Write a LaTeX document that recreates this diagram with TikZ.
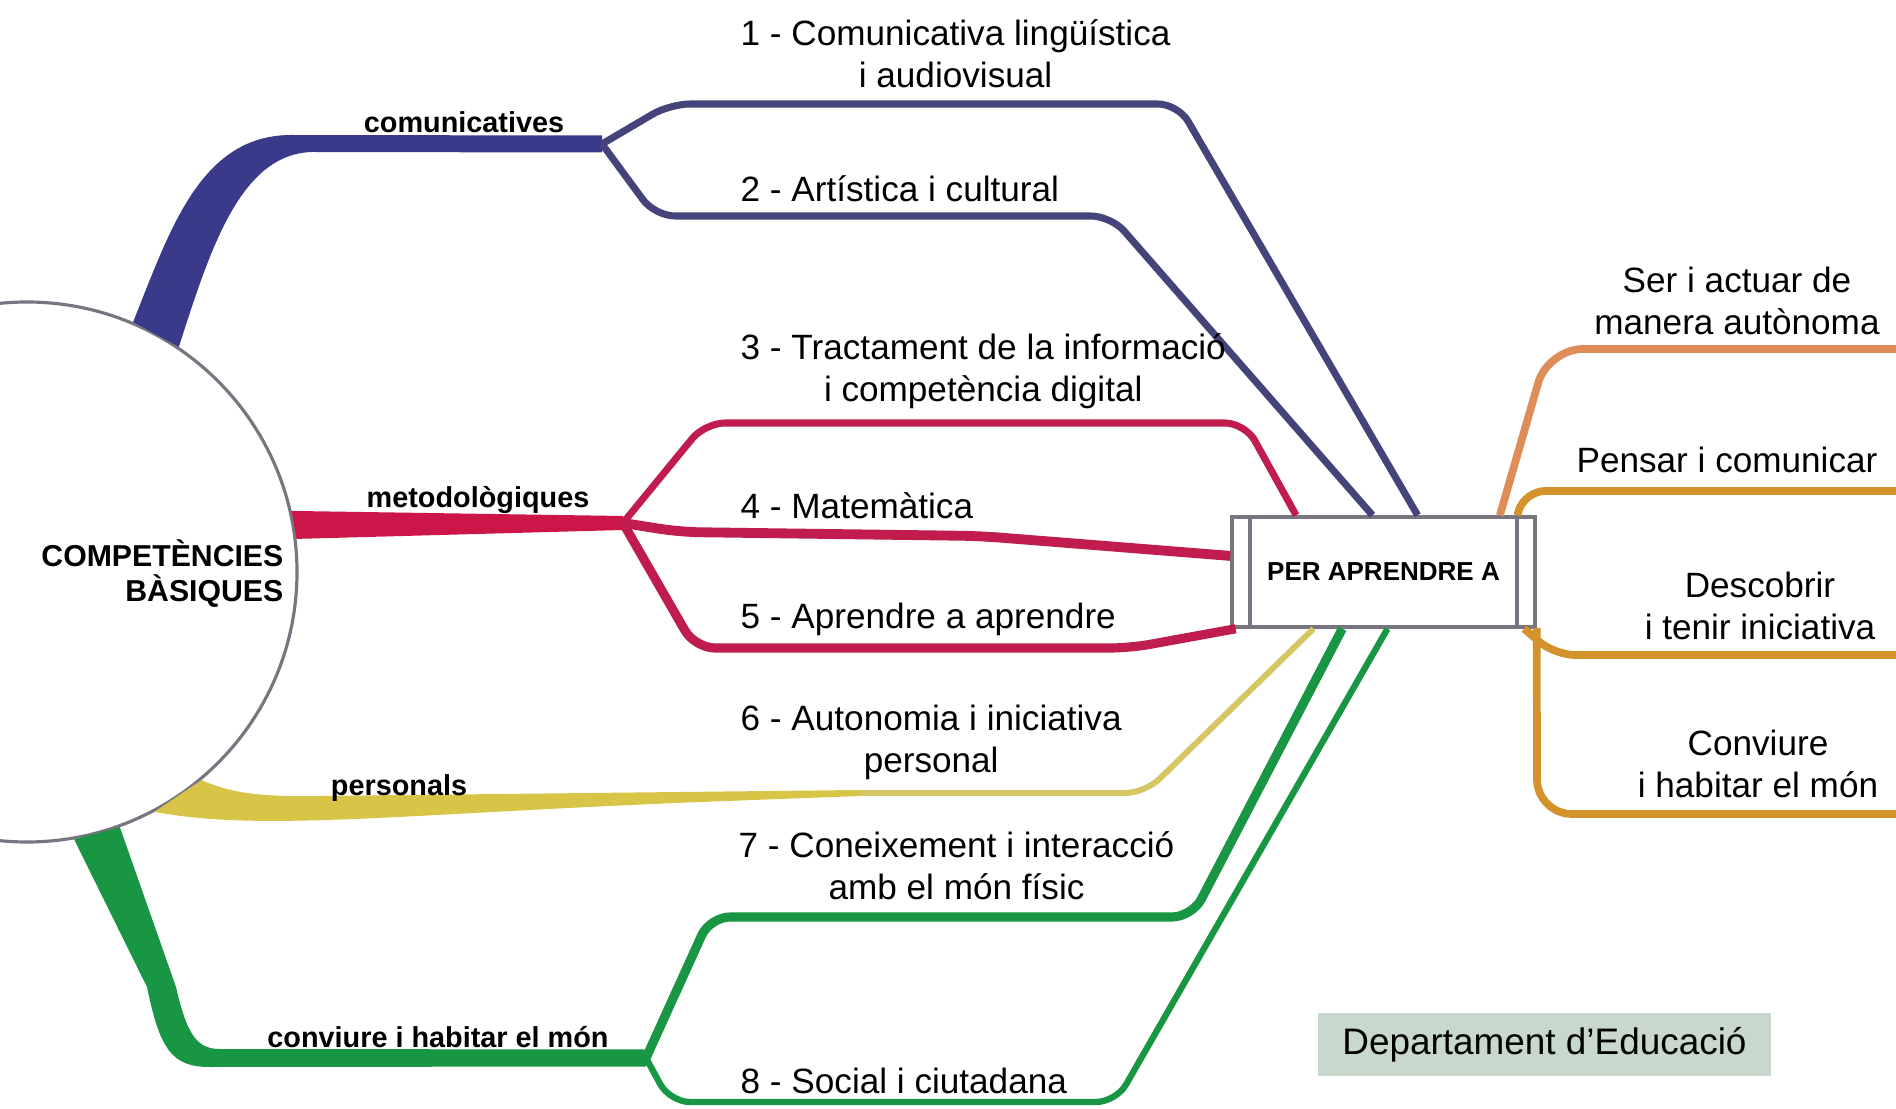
\documentclass[tikz,border=0pt]{standalone}
\usepackage{fontspec}
\setmainfont{Liberation Sans}
\usetikzlibrary{calc}

\definecolor{cbblue}{RGB}{58,58,138}
\definecolor{lnblue}{RGB}{68,68,122}
\definecolor{cbred}{RGB}{204,22,72}
\definecolor{lnred}{RGB}{192,28,78}
\definecolor{cbyellow}{RGB}{216,196,70}
\definecolor{lnyellow}{RGB}{214,198,100}
\definecolor{cbgreen}{RGB}{24,150,68}
\definecolor{lnorange}{RGB}{222,140,88}
\definecolor{lngold}{RGB}{212,146,45}
\definecolor{circgray}{RGB}{118,118,128}
\definecolor{boxgray}{RGB}{120,116,128}
\definecolor{deptgreen}{RGB}{201,216,205}

\tikzset{
  branchline/.style={line width=2pt, rounded corners=0.2cm},
  numlabel/.style={font=\fontsize{10}{12}\selectfont, align=center, anchor=west, inner sep=0pt},
  outlabel/.style={font=\fontsize{10}{12}\selectfont, align=center, inner sep=0pt},
  kindlabel/.style={font=\bfseries\fontsize{8.2}{10}\selectfont, inner sep=0pt}
}

\begin{document}
\begin{tikzpicture}[y=-1cm]
  \path[fill=white,use as bounding box] (0,0) rectangle (18.96,11.09);

  \node[circle,draw=circgray,line width=0.9pt,fill=white,minimum size=5.4cm] (cb) at (0.27,5.72) {};
  \node[font=\bfseries\fontsize{8.6}{10}\selectfont,align=right,anchor=east,inner sep=0pt] (cbt) at (2.84,5.735) {COMPETÈNCIES\\BÀSIQUES};

  \node[draw=boxgray,line width=1pt,fill=white,minimum width=3.03cm,minimum height=1.1cm,font=\bfseries\fontsize{7.4}{9}\selectfont] (pa) at (13.835,5.72) {PER APRENDRE A};
  \draw[boxgray,line width=1pt] ([xshift=2mm]pa.north west) -- ([xshift=2mm]pa.south west);
  \draw[boxgray,line width=1pt] ([xshift=-2mm]pa.north east) -- ([xshift=-2mm]pa.south east);

  \coordinate (fb) at (6.02,1.44);
  \coordinate (fr) at (6.23,5.23);
  \coordinate (fy) at (8.60,7.93);
  \coordinate (fg) at (6.46,10.58);

  \fill[cbblue] (cb.67) .. controls (1.70,2.30) and (2.00,1.36) .. (2.90,1.35) -- ($(fb)+(0,-0.085)$) -- ($(fb)+(0,0.085)$) -- (3.12,1.52) .. controls (2.40,1.54) and (2.10,2.50) .. (cb.56) -- cycle;
  \fill[cbred] (cb.13) -- ($(fr)+(0,-0.07)$) -- ($(fr)+(0,0.07)$) -- (cb.7) -- cycle;
  \fill[cbyellow] (cb.-50) .. controls (2.30,7.93) and (2.60,7.97) .. (3.20,7.96) -- ($(fy)+(0,-0.03)$) -- ($(fy)+(0,0.03)$) -- (7.00,8.02) .. controls (4.00,8.14) and (2.60,8.32) .. (cb.-62) -- cycle;
  \fill[cbgreen] (cb.-80) -- (1.47,9.87) .. controls (1.60,10.50) and (1.72,10.67) .. (2.10,10.67) -- ($(fg)+(0,0.085)$) -- ($(fg)+(0,-0.085)$) -- (2.20,10.49) .. controls (1.97,10.49) and (1.87,10.35) .. (1.76,9.87) -- (cb.-70) -- cycle;

  \draw[branchline,lnblue] (fb) -- (6.70,1.04) -- (11.78,1.04) -- (pa.59);
  \draw[branchline,lnblue] (fb) -- (6.55,2.16) -- (11.11,2.16) -- (pa.101);
  \draw[branchline,lnred] (fr) -- (7.05,4.23) -- (12.45,4.23) -- (pa.147);
  \draw[branchline,lnred,line width=2.8pt] (fr) -- (6.80,5.32) -- (9.80,5.36) -- (pa.174);
  \draw[branchline,lnred,line width=2.6pt] (fr) -- (6.95,6.48) -- (11.30,6.48) -- (pa.-159);
  \draw[branchline,lnyellow,line width=1.7pt] (fy) -- (11.45,7.93) -- (pa.-141);
  \draw[branchline,cbgreen,line width=2.6pt] (fg) -- (7.10,9.17) -- (11.92,9.17) -- (pa.-126);
  \draw[branchline,cbgreen,line width=1.8pt] (fg) -- (6.70,11.02) -- (11.16,11.02) -- (pa.-86);

  \draw[branchline,lnorange,line width=2.2pt,rounded corners=0.35cm] (pa.26) -- (15.48,3.49) -- (18.96,3.49);
  \draw[branchline,lngold,line width=2.2pt] (pa.23) -- (15.25,4.91) -- (18.96,4.91);
  \draw[branchline,lngold,line width=2.2pt] (pa.-22) -- (15.55,6.55) -- (18.96,6.55);
  \draw[branchline,lngold,line width=2.2pt,rounded corners=0.35cm] (pa.-20) -- (15.37,8.14) -- (18.96,8.14);

  \node[kindlabel] (k1) at (4.64,1.22) {comunicatives};
  \node[kindlabel] (k2) at (4.78,5.00) {metodològiques};
  \node[kindlabel] (k3) at (3.99,7.88) {personals};
  \node[kindlabel] (k4) at (4.38,10.37) {conviure i habitar el món};

  \node[numlabel] (c1) at (7.40,0.54) {1 - Comunicativa lingüística\\i audiovisual};
  \node[numlabel] (c2) at (7.40,1.89) {2 - Artística i cultural};
  \node[numlabel] (c3) at (7.40,3.71) {3 - Tractament de la informació\\i competència digital};
  \node[numlabel] (c4) at (7.40,5.06) {4 - Matemàtica};
  \node[numlabel] (c5) at (7.40,6.19) {5 - Aprendre a aprendre};
  \node[numlabel] (c6) at (7.40,7.42) {6 - Autonomia i iniciativa\\personal};
  \node[numlabel] (c7) at (7.38,8.66) {7 - Coneixement i interacció\\amb el món físic};
  \node[numlabel] (c8) at (7.40,10.81) {8 - Social i ciutadana};

  \node[outlabel] (r1) at (17.37,3.01) {Ser i actuar de\\manera autònoma};
  \node[outlabel] (r2) at (17.27,4.60) {Pensar i comunicar};
  \node[outlabel] (r3) at (17.60,6.06) {Descobrir\\i tenir iniciativa};
  \node[outlabel] (r4) at (17.58,7.64) {Conviure\\i habitar el món};

  \node[fill=deptgreen,minimum width=4.53cm,minimum height=0.63cm,inner sep=0pt,font=\fontsize{10.5}{12}\selectfont] (dept) at (15.445,10.445) {Departament d’Educació};
\end{tikzpicture}
\end{document}
